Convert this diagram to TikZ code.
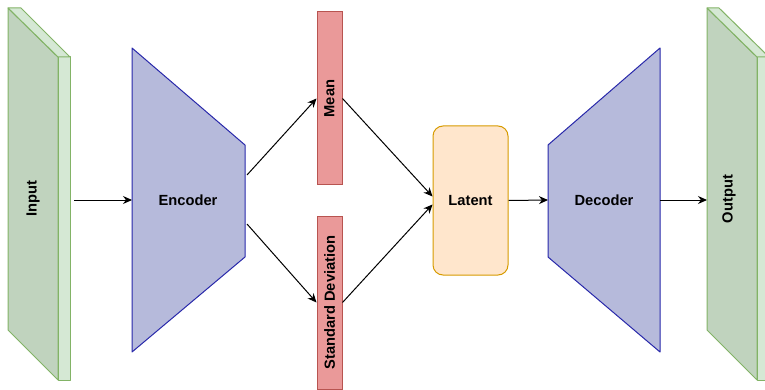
\documentclass[tikz,border=0pt]{standalone}
\usepackage{fontspec}
\setmainfont{Liberation Sans}
\usetikzlibrary{arrows.meta,positioning,calc}
\definecolor{slabfront}{RGB}{192,211,190}
\definecolor{slabside}{RGB}{213,232,212}
\definecolor{slabline}{RGB}{130,179,102}
\definecolor{netfill}{RGB}{182,186,219}
\definecolor{netline}{RGB}{40,40,170}
\definecolor{statfill}{RGB}{234,153,153}
\definecolor{statline}{RGB}{184,84,80}
\definecolor{latfill}{RGB}{255,230,204}
\definecolor{latline}{RGB}{215,155,0}
\tikzset{
  lbl/.style={font=\fontsize{14.7}{16}\selectfont\bfseries},
  slabface/.style={draw=slabline,fill=slabfront,line width=1pt,line join=round},
  slabedge/.style={draw=slabline,fill=slabside,line width=1pt,line join=round},
  netbox/.style={draw=netline,fill=netfill,line width=1pt,line join=round},
  statnode/.style={rectangle,draw=statline,fill=statfill,line width=1pt,rotate=90,minimum width=173pt,minimum height=25pt,inner sep=0pt,lbl},
  latnode/.style={rectangle,rounded corners=10pt,draw=latline,fill=latfill,line width=1pt,minimum width=75pt,minimum height=149pt,lbl},
  arr/.style={-{Stealth[length=9pt,width=8pt]},line width=1pt,black}
}

\begin{document}
\begin{tikzpicture}[x=1pt,y=-1pt]
  \useasboundingbox (0,0) rectangle (765,390);
  \clip (0,0) rectangle (765,390);

  %% Input slab
  \filldraw[slabface] (8,8) -- (58,57) -- (58,380) -- (8,330) -- cycle;
  \filldraw[slabedge] (58,57) -- (70,57) -- (70,380) -- (58,380) -- cycle;
  \filldraw[slabedge] (8,8) -- (21,8) -- (70,57) -- (58,57) -- cycle;
  \node[lbl,rotate=90] (input) at (33,199) {Input};
  \coordinate (inR) at (74,200);

  %% Encoder
  \filldraw[netbox] (132,48) -- (245,145) -- (245,257) -- (132,352) -- cycle;
  \node[lbl] (enc) at (188,200) {Encoder};
  \coordinate (encL) at (132,200);
  \coordinate (encA) at (247,175);
  \coordinate (encB) at (247,224);

  %% Mean / standard deviation (rotated: north = left side)
  \node[statnode] (mean) at (329.5,98.5) {Mean};
  \node[statnode] (std) at (329.5,302.5) {Standard Deviation};

  %% Latent
  \node[latnode] (lat) at (470.5,200.5) {Latent};
  \coordinate (latA) at ([yshift=4pt]lat.west);
  \coordinate (latB) at ([yshift=-4pt]lat.west);

  %% Decoder
  \filldraw[netbox] (548,145) -- (660,48) -- (660,352) -- (548,257) -- cycle;
  \node[lbl] (dec) at (604,200) {Decoder};
  \coordinate (decL) at (548,200);
  \coordinate (decR) at (660,200);

  %% Output slab
  \filldraw[slabface] (707,8) -- (757,57) -- (757,380) -- (707,330) -- cycle;
  \filldraw[slabedge] (757,57) -- (769,57) -- (769,380) -- (757,380) -- cycle;
  \filldraw[slabedge] (707,8) -- (719,8) -- (769,57) -- (757,57) -- cycle;
  \node[lbl,rotate=90] (output) at (729,199) {Output};
  \coordinate (outL) at (707,200);

  %% Arrows
  \draw[arr] (inR) -- (encL);
  \draw[arr] (encA) -- (mean.north);
  \draw[arr] (encB) -- (std.north);
  \draw[arr] (mean.south) -- (latA);
  \draw[arr] (std.south) -- (latB);
  \draw[arr] (lat.east) -- (decL);
  \draw[arr] (decR) -- (outL);
\end{tikzpicture}
\end{document}
